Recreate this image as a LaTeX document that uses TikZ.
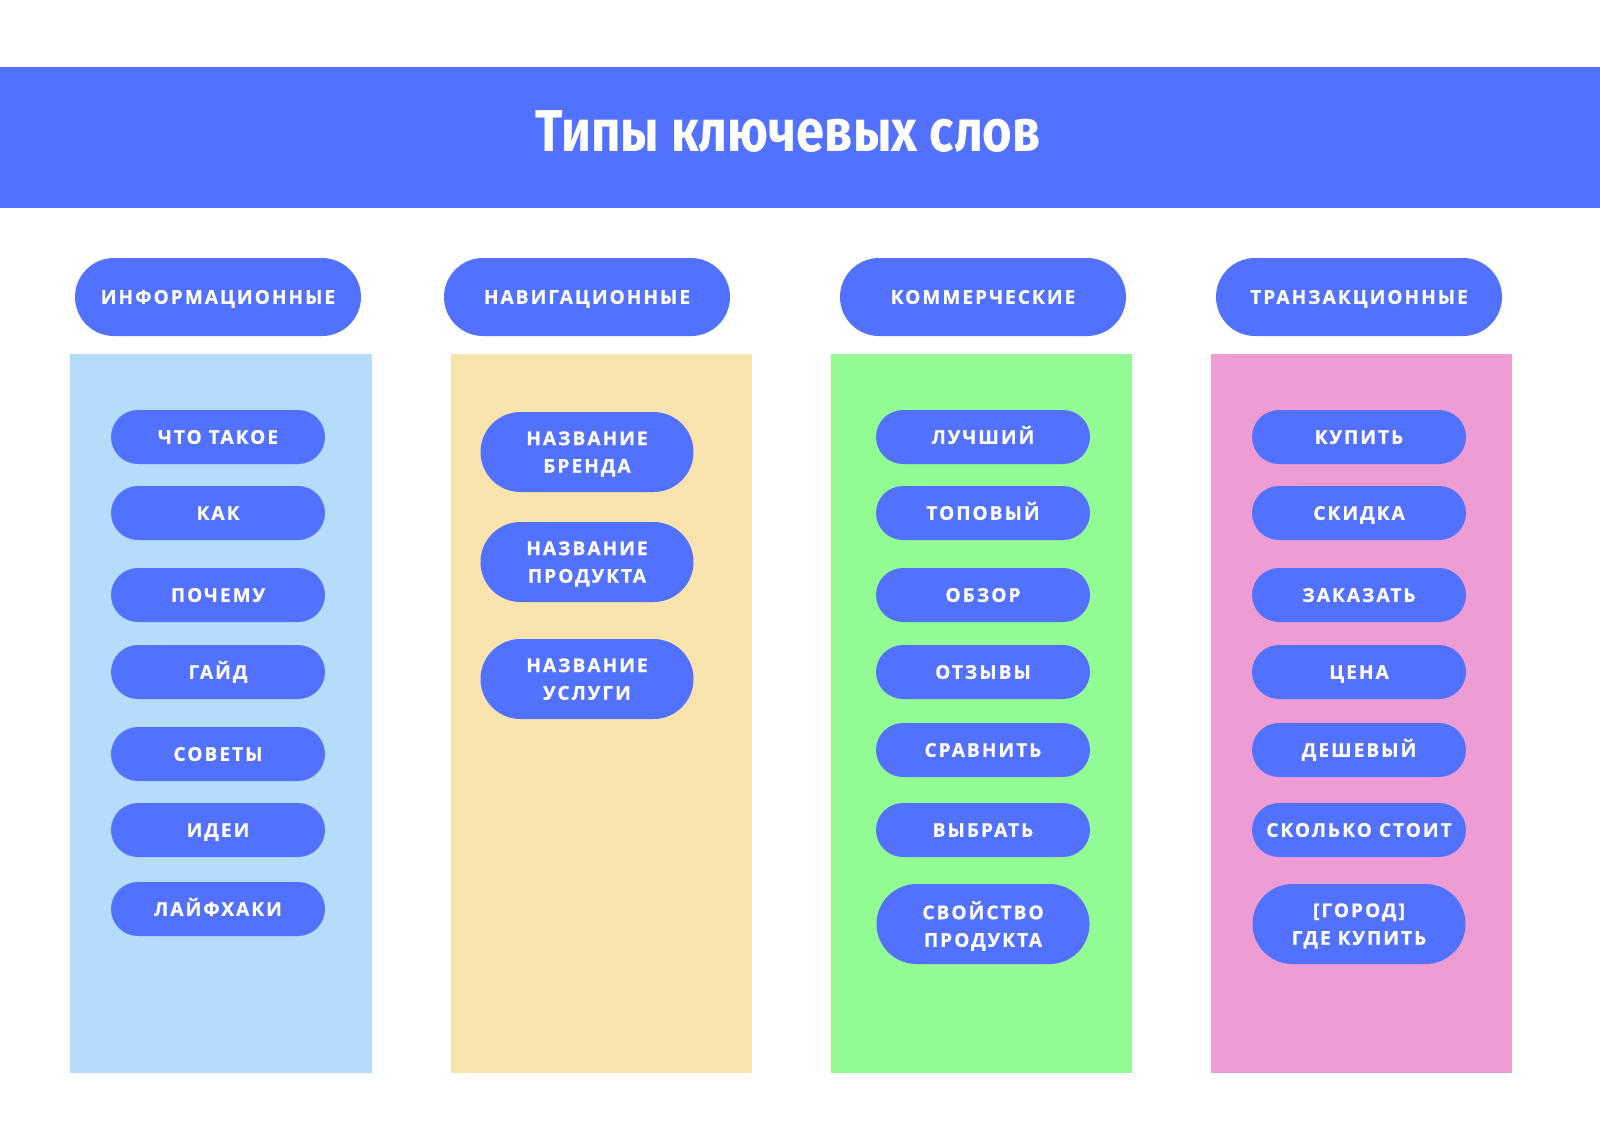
\documentclass[tikz,border=0pt]{standalone}
\usepackage{fontspec}
\setmainfont{Open Sans}
\newfontfamily\pillfont[LetterSpace=11, BoldFeatures={FakeBold=0.8}]{Open Sans}
\newfontfamily\titlefont[FakeStretch=0.86]{Fira Sans}
\definecolor{mainblue}{HTML}{5271FF}
\definecolor{colblue}{HTML}{B5DDFB}
\definecolor{colyellow}{HTML}{F9E4AF}
\definecolor{colgreen}{HTML}{93FB94}
\definecolor{colpink}{HTML}{ED9DD4}
\begin{document}
\begin{tikzpicture}[x=0.5pt,y=-0.5pt,
  pilltext/.style={text=white, inner sep=0pt, align=center,
    text depth=0pt,
    font=\pillfont\bfseries\fontsize{9.5}{13.8}\selectfont},
  headpill/.style={pilltext, fill=mainblue, rounded corners=19.5pt,
    minimum width=143pt, minimum height=39pt, text height=6.8pt},
  pill/.style={pilltext, fill=mainblue, rounded corners=13.5pt,
    minimum width=107pt, minimum height=27pt, text height=6.8pt},
  pilltwo/.style={pilltext, fill=mainblue, rounded corners=20pt,
    minimum width=106.5pt, minimum height=40pt}]
\useasboundingbox (0,0) rectangle (1600,1131);
\fill[white] (0,0) rectangle (1600,1131);
% header band
\fill[mainblue] (0,67) rectangle (1600,208);
\node[text=white, inner sep=0pt, anchor=base,
  font=\titlefont\bfseries\fontsize{29.5}{36}\selectfont] (title) at (788,151) {Типы ключевых слов};
% columns
\fill[colblue]   (70,354)   rectangle (371.5,1072.5);
\fill[colyellow] (451,354)  rectangle (752,1072.5);
\fill[colgreen]  (831,354)  rectangle (1132,1072.5);
\fill[colpink]   (1211,354) rectangle (1512,1072.5);
% header pills
\node[headpill] (h1) at (218,297) {ИНФОРМАЦИОННЫЕ};
\node[headpill] (h2) at (587,297) {НАВИГАЦИОННЫЕ};
\node[headpill] (h3) at (983,297) {КОММЕРЧЕСКИЕ};
\node[headpill] (h4) at (1359,297) {ТРАНЗАКЦИОННЫЕ};
% column 1
\node[pill] (a1) at (218,437) {ЧТО ТАКОЕ};
\node[pill] (a2) at (218,513) {КАК};
\node[pill] (a3) at (218,595) {ПОЧЕМУ};
\node[pill] (a4) at (218,672) {ГАЙД};
\node[pill] (a5) at (218,754) {СОВЕТЫ};
\node[pill] (a6) at (218,830) {ИДЕИ};
\node[pill] (a7) at (218,909) {ЛАЙФХАКИ};
% column 2
\node[pilltwo] (b1) at (587,452) {НАЗВАНИЕ\\БРЕНДА};
\node[pilltwo] (b2) at (587,562) {НАЗВАНИЕ\\ПРОДУКТА};
\node[pilltwo] (b3) at (587,679) {НАЗВАНИЕ\\УСЛУГИ};
% column 3
\node[pill] (c1) at (983,437) {ЛУЧШИЙ};
\node[pill] (c2) at (983,513) {ТОПОВЫЙ};
\node[pill] (c3) at (983,595) {ОБЗОР};
\node[pill] (c4) at (983,672) {ОТЗЫВЫ};
\node[pill] (c5) at (983,750) {СРАВНИТЬ};
\node[pill] (c6) at (983,830) {ВЫБРАТЬ};
\node[pilltwo] (c7) at (983,924) {СВОЙСТВО\\ПРОДУКТА};
% column 4
\node[pill] (d1) at (1359,437) {КУПИТЬ};
\node[pill] (d2) at (1359,513) {СКИДКА};
\node[pill] (d3) at (1359,595) {ЗАКАЗАТЬ};
\node[pill] (d4) at (1359,672) {ЦЕНА};
\node[pill] (d5) at (1359,750) {ДЕШЕВЫЙ};
\node[pill] (d6) at (1359,830) {СКОЛЬКО СТОИТ};
\node[pilltwo] (d7) at (1359,924) {[ГОРОД]\\ГДЕ КУПИТЬ};
\end{tikzpicture}
\end{document}
